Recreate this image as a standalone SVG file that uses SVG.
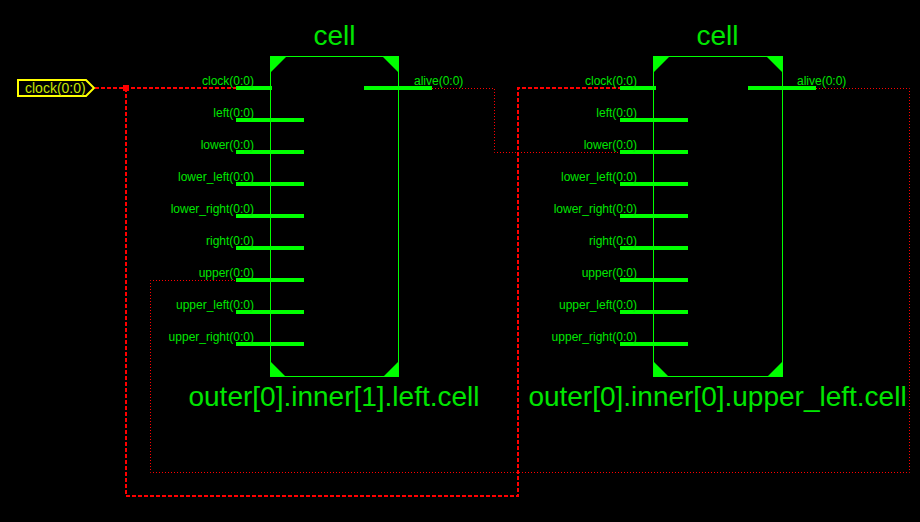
<svg xmlns="http://www.w3.org/2000/svg" width="920" height="522" viewBox="0 0 920 522">
<style>
text{font-family:"Liberation Sans",Arial,sans-serif}
.pl{font-size:12px;fill:#00e600;text-anchor:end}
.pr{font-size:12px;fill:#00e600;text-anchor:start}
.t{font-size:28px;fill:#00e600;text-anchor:middle}
.n{font-size:28px;fill:#00e600;text-anchor:middle}
.b{fill:none;stroke:#0f0;stroke-width:1}
.c{fill:#0f0}
.s{stroke:#0f0;stroke-width:4;fill:none}
.clk{fill:none;stroke:#f00;stroke-width:2;stroke-dasharray:4 2}
.dot{fill:none;stroke:#f00;stroke-width:1;stroke-dasharray:1 2}
</style>
<defs>
<path id="stubs" class="s" d="M236 88H272M364 88H432M236 120H304M236 152H304M236 184H304M236 216H304M236 248H304M236 280H304M236 312H304M236 344H304"/>
</defs>
<rect width="920" height="522" fill="#000"/>
<g id="connectors">
<path class="clk" d="M95 88H236"/>
<path class="clk" d="M126 88V496H518V88H620"/>
<rect x="123" y="85" width="6" height="6" fill="#f00"/>
<path class="dot" d="M432 88.500H494.500V152.500H620"/>
<path class="dot" d="M816 88.500H909.500V472.500H150.500V280.500H236"/>
</g>
<g id="port-clock">
<polygon points="18,80 86,80 94,88 86,96 18,96" fill="none" stroke="#ff0" stroke-width="2"/>
<text x="25" y="93" fill="#c8e600" style="font-size:14px">clock(0:0)</text>
</g>
<g id="cell-left">
<rect class="b" x="270.500" y="56.500" width="128" height="320"/>
<polygon class="c" points="270,56 287,56 270,73"/>
<polygon class="c" points="399,56 382,56 399,73"/>
<polygon class="c" points="270,377 286,377 270,361"/>
<polygon class="c" points="399,377 383,377 399,361"/>
<use href="#stubs"/>
<text class="t" x="334.500" y="45">cell</text>
<text class="pl" x="254" y="85">clock(0:0)</text>
<text class="pl" x="254" y="117">left(0:0)</text>
<text class="pl" x="254" y="149">lower(0:0)</text>
<text class="pl" x="254" y="181">lower_left(0:0)</text>
<text class="pl" x="254" y="213">lower_right(0:0)</text>
<text class="pl" x="254" y="245">right(0:0)</text>
<text class="pl" x="254" y="277">upper(0:0)</text>
<text class="pl" x="254" y="309">upper_left(0:0)</text>
<text class="pl" x="254" y="341">upper_right(0:0)</text>
<text class="pr" x="414" y="85">alive(0:0)</text>
<text class="n" x="334" y="406">outer[0].inner[1].left.cell</text>
</g>
<g id="cell-right">
<rect class="b" x="653.500" y="56.500" width="129" height="320"/>
<polygon class="c" points="653,56 670,56 653,73"/>
<polygon class="c" points="783,56 766,56 783,73"/>
<polygon class="c" points="653,377 669,377 653,361"/>
<polygon class="c" points="783,377 767,377 783,361"/>
<use href="#stubs" x="384"/>
<text class="t" x="717.500" y="45">cell</text>
<text class="pl" x="637" y="85">clock(0:0)</text>
<text class="pl" x="637" y="117">left(0:0)</text>
<text class="pl" x="637" y="149">lower(0:0)</text>
<text class="pl" x="637" y="181">lower_left(0:0)</text>
<text class="pl" x="637" y="213">lower_right(0:0)</text>
<text class="pl" x="637" y="245">right(0:0)</text>
<text class="pl" x="637" y="277">upper(0:0)</text>
<text class="pl" x="637" y="309">upper_left(0:0)</text>
<text class="pl" x="637" y="341">upper_right(0:0)</text>
<text class="pr" x="797" y="85">alive(0:0)</text>
<text class="n" x="717.500" y="406">outer[0].inner[0].upper_left.cell</text>
</g>
</svg>
